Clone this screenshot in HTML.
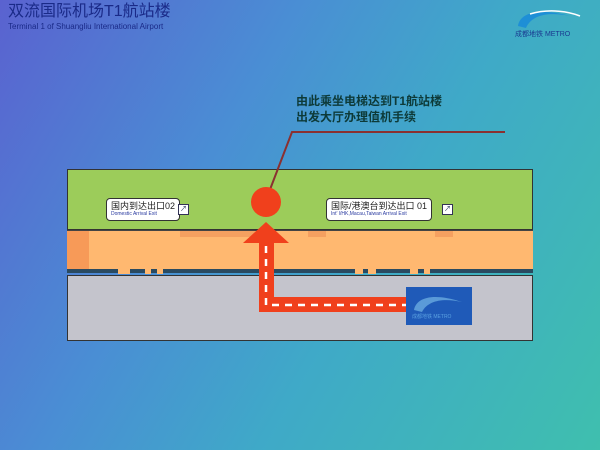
<!DOCTYPE html>
<html><head><meta charset="utf-8"><style>
*{margin:0;padding:0}
body{width:600px;height:450px;overflow:hidden;position:relative;font-family:"Liberation Sans","Noto Sans CJK SC",sans-serif;
background:linear-gradient(120deg,#5a62d0 0%,#4a8ed4 35%,#3fa9c8 60%,#3fbfae 100%);}
.a{position:absolute}
.lbl{position:absolute;background:#fff;border:1px solid #333;border-radius:4px;padding:2px 4px;line-height:10px}
.lbl b{font-weight:normal;font-size:9px;color:#222;display:block}
.lbl i{font-style:normal;font-size:5px;color:#2a3aa0;display:block;line-height:7px}
.ic{position:absolute;width:9px;height:9px;background:#fff;border:1px solid #335;font-size:7px;line-height:9px;text-align:center;color:#235}
</style></head><body>
<div class="a" style="left:8px;top:3px;font-size:16px;line-height:18px;color:#1a2a88;">双流国际机场T1航站楼</div>
<div class="a" style="left:8px;top:22px;font-size:8px;line-height:9px;color:#1a2a88;">Terminal 1 of Shuangliu International Airport</div>
<svg class="a" style="left:510px;top:4px" width="80" height="36"><path d="M8 22 C10 8 30 4 60 12 C40 8 22 10 16 24Z" fill="#1e8fd6"/><path d="M20 10 C40 4 60 8 70 12" stroke="#fff" stroke-width="1.5" fill="none"/></svg>
<div class="a" style="left:515px;top:29px;font-size:7px;color:#1a3a90;">成都地铁 METRO</div>
<div class="a" style="left:296px;top:93px;font-size:12px;font-weight:bold;color:#0d3a38;line-height:16px;">由此乘坐电梯达到T1航站楼<br>出发大厅办理值机手续</div>
<div class="a" style="left:67px;top:169px;width:466px;height:61px;background:#9ccc5a;border:1px solid #333;box-sizing:border-box"></div>
<div class="a" style="left:67px;top:230px;width:466px;height:40px;background:#ffb870"></div>
<div class="a" style="left:67px;top:230px;width:22px;height:40px;background:#f79a58"></div>
<div class="a" style="left:180px;top:231px;width:90px;height:6px;background:#f5a060"></div>
<div class="a" style="left:308px;top:231px;width:18px;height:6px;background:#f5a060"></div>
<div class="a" style="left:435px;top:231px;width:18px;height:6px;background:#f5a060"></div>
<div class="a" style="left:67px;top:230px;width:466px;height:1px;background:#444"></div>
<div class="a" style="left:67px;top:275px;width:466px;height:66px;background:#c4c4cc;border:1px solid #333;box-sizing:border-box"></div>
<div class="a" style="left:67px;top:269px;width:466px;height:4px;background:#2a4a60"></div>
<div class="a" style="left:118px;top:268px;width:12px;height:6px;background:#ffb870"></div>
<div class="a" style="left:145px;top:268px;width:6px;height:6px;background:#ffb870"></div>
<div class="a" style="left:157px;top:268px;width:6px;height:6px;background:#ffb870"></div>
<div class="a" style="left:355px;top:268px;width:8px;height:6px;background:#ffb870"></div>
<div class="a" style="left:368px;top:268px;width:8px;height:6px;background:#ffb870"></div>
<div class="a" style="left:410px;top:268px;width:8px;height:6px;background:#ffb870"></div>
<div class="a" style="left:424px;top:268px;width:6px;height:6px;background:#ffb870"></div>
<div class="lbl" style="left:106px;top:198px"><b>国内到达出口02</b><i>Domestic Arrival Exit</i></div>
<div class="ic" style="left:178px;top:204px">↗</div>
<div class="lbl" style="left:326px;top:198px"><b>国际/港澳台到达出口 01</b><i>Int' l/HK,Macau,Taiwan Arrival Exit</i></div>
<div class="ic" style="left:442px;top:204px">↗</div>
<svg class="a" style="left:0;top:0" width="600" height="450">
<polyline points="266,200 292,132 505,132" stroke="#8a3030" stroke-width="2" fill="none"/>
<circle cx="266" cy="202" r="15" fill="#f0401c"/>
<polygon points="243,243 266,222 289,243" fill="#f0401c"/>
<rect x="259" y="242" width="15" height="70" fill="#f0401c"/>
<rect x="259" y="297" width="148" height="15" fill="#f0401c"/>
<path d="M266 246 V305 H406" stroke="#fff" stroke-width="2.5" stroke-dasharray="7,6" fill="none"/>
<rect x="406" y="287" width="66" height="38" fill="#1f5ab8"/>
<path d="M414 310 C416 298 432 292 462 302 C444 298 428 300 422 312Z" fill="#5a9ad8"/>
</svg>
<div class="a" style="left:412px;top:313px;font-size:5px;color:#5aa0e0;">成都地铁 METRO</div>
</body></html>
